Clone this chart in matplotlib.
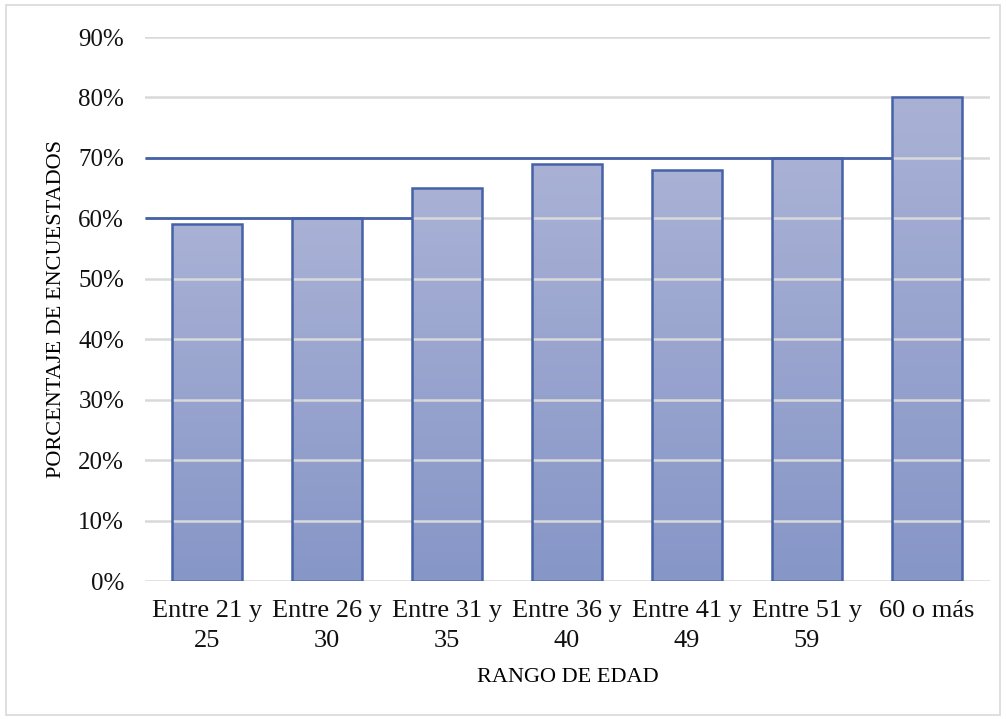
import matplotlib
matplotlib.use("Agg")
import matplotlib.pyplot as plt
import numpy as np
from matplotlib.colors import LinearSegmentedColormap
from matplotlib.patches import Rectangle

categories = ["Entre 21 y\n25", "Entre 26 y\n30", "Entre 31 y\n35", "Entre 36 y\n40",
              "Entre 41 y\n49", "Entre 51 y\n59", "60 o más"]
values = [0.59, 0.60, 0.65, 0.69, 0.68, 0.70, 0.80]
ref_low = 0.60    # reference line spanning first group
ref_high = 0.70   # reference line spanning up to last group
yticks = [0.0, 0.1, 0.2, 0.3, 0.4, 0.5, 0.6, 0.7, 0.8, 0.9]

plt.rcParams['font.family'] = ['Liberation Serif', 'DejaVu Serif']

fig = plt.figure(figsize=(10.06, 7.19), dpi=100)
ax = fig.add_axes([145/1006, 1-581/719, 845/1006, (581-37)/719])

edge = "#4562a9"
cmap = LinearSegmentedColormap.from_list("g", ["#8696c7", "#a9b1d5"])
x = np.arange(len(categories))
w = 0.58
bars = ax.bar(x, values, width=w, facecolor="none", edgecolor=edge, linewidth=1.8, zorder=4)
grad = np.linspace(0, 1, 256).reshape(-1, 1)
for b in bars:
    x0, h = b.get_x(), b.get_height()
    im = ax.imshow(grad, extent=[x0, x0 + w, 0, h], origin="lower", cmap=cmap,
                   vmin=0, vmax=1, aspect="auto", zorder=2)
    clip = Rectangle((x0, 0), w, h, transform=ax.transData)
    im.set_clip_path(clip)

ax.set_xlim(-0.515, len(categories) - 0.515 + 0.04)
ax.set_ylim(0, 0.9)
ax.set_yticks(yticks)
ax.set_yticklabels([f"{int(round(t*100))}%" for t in yticks], fontsize=18)
ax.set_xticks(x)
ax.set_xticklabels(categories, fontsize=19, linespacing=1.42)
ax.tick_params(axis="both", length=0, colors="#111111")
ax.tick_params(axis="y", pad=15)
ax.tick_params(axis="x", pad=14)

for t in yticks:
    ax.axhline(t, color="#d9d9d9", linewidth=1.8, zorder=3)

# reference lines
ax.plot([-0.515, x[2] - w/2], [ref_low, ref_low], color=edge, linewidth=2.0, zorder=5, solid_capstyle="butt")
ax.plot([-0.515, x[6] - w/2], [ref_high, ref_high], color=edge, linewidth=2.0, zorder=5, solid_capstyle="butt")

for s in ax.spines.values():
    s.set_visible(False)

ax.set_ylabel("PORCENTAJE DE ENCUESTADOS", fontsize=16, labelpad=9)
ax.set_xlabel("RANGO DE EDAD", fontsize=16, labelpad=12)

# outer chart border
fig.patches.append(Rectangle((6/1006, 4/719), 994/1006, 710/719, transform=fig.transFigure,
                             fill=False, edgecolor="#d9d9d9", linewidth=1.2))

fig.savefig("out.png", dpi=100)
